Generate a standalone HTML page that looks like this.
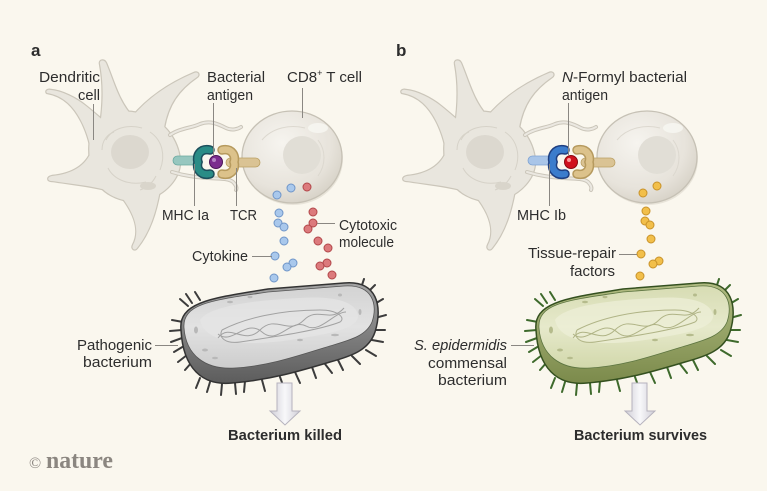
<!DOCTYPE html>
<html><head><meta charset="utf-8"><style>
html,body{margin:0;padding:0;background:#faf7ee;}
svg{display:block;}
text{font-family:"Liberation Sans",sans-serif;fill:#2d2d2d;}
text.logo{font-family:"Liberation Serif",serif;fill:#8b8680;}
</style></head><body>
<svg width="767" height="491" viewBox="0 0 767 491" xmlns="http://www.w3.org/2000/svg">
<defs>
<radialGradient id="tg" cx="0.4" cy="0.35" r="0.7">
<stop offset="0" stop-color="#f6f4ef"/><stop offset="0.7" stop-color="#e7e3db"/><stop offset="1" stop-color="#d6d1c6"/>
</radialGradient>
<linearGradient id="aside" x1="0" y1="0" x2="0" y2="1"><stop offset="0" stop-color="#a4a4a4"/><stop offset="1" stop-color="#5c5c5c"/></linearGradient>
<linearGradient id="atop" x1="0" y1="0" x2="0" y2="1"><stop offset="0" stop-color="#d3d3d3"/><stop offset="0.5" stop-color="#e2e2e2"/><stop offset="1" stop-color="#cdcdcd"/></linearGradient>
<linearGradient id="bside" x1="0" y1="0" x2="0" y2="1"><stop offset="0" stop-color="#b1bc82"/><stop offset="1" stop-color="#7b8a4b"/></linearGradient>
<linearGradient id="btop" x1="0" y1="0" x2="0" y2="1"><stop offset="0" stop-color="#d7dcb3"/><stop offset="0.5" stop-color="#e6e9cb"/><stop offset="1" stop-color="#d2d8ab"/></linearGradient>
<linearGradient id="arr" x1="0" y1="0" x2="1" y2="0"><stop offset="0" stop-color="#cfcdd6"/><stop offset="0.5" stop-color="#f8f8fa"/><stop offset="1" stop-color="#cfcdd6"/></linearGradient>

<g id="dcshapes">
<path d="M95,125 C105,112 125,108 145,115 C165,122 178,140 180,160 C181,178 165,195 145,200 C120,205 98,192 92,172 C88,155 88,135 95,125 Z"/>
<path d="M100,126 C104,100 103,80 100,64 C99,60 104,59 106,63 C114,82 118,100 132,116 Z"/>
<path d="M132,117 C148,98 168,84 194,73 C198,71 200,75 197,77 C178,90 168,105 164,128 Z"/>
<path d="M90,145 C86,128 78,112 68,103 C60,96 53,94 47,93 C45,91 48,89 51,90 C62,91 76,98 86,106 C96,114 102,120 108,124 Z"/>
<path d="M92,150 C86,166 72,174 52,176 C47,177 47,181 52,181 C72,184 92,186 106,190 Z"/>
<path d="M120,195 C136,215 140,232 133,245 C131,249 135,251 137,248 C150,232 156,212 160,190 Z"/>
</g>

<g id="dc">
<use href="#dcshapes" fill="#cbc6ba" stroke="#cbc6ba" stroke-width="2.4"/>
<use href="#dcshapes" fill="#e9e6de"/>
<path d="M170,135 C180,128 192,128 200,124 C210,120 218,124 226,128 C232,131 238,129 241,127" fill="none" stroke="#cbc6ba" stroke-width="4" stroke-linecap="round"/>
<path d="M170,135 C180,128 192,128 200,124 C210,120 218,124 226,128 C232,131 238,129 241,127" fill="none" stroke="#ebe8e1" stroke-width="2" stroke-linecap="round"/>
<path d="M172,172 C185,176 195,177 208,178 C220,179 228,178 233,182 C236,185 237,188 236,190" fill="none" stroke="#cbc6ba" stroke-width="4" stroke-linecap="round"/>
<path d="M172,172 C185,176 195,177 208,178 C220,179 228,178 233,182 C236,185 237,188 236,190" fill="none" stroke="#ebe8e1" stroke-width="2" stroke-linecap="round"/>
<ellipse cx="130" cy="152" rx="19" ry="17" fill="#dcd8cf"/>
<g fill="none" stroke="#d6d2c8" stroke-width="1">
<path d="M106,140 C112,128 128,124 142,128"/>
<path d="M150,132 C162,140 166,155 160,170"/>
<path d="M108,168 C114,180 130,186 146,182"/>
<path d="M102,150 C102,140 108,134 114,132"/>
<path d="M156,176 C152,184 146,188 140,190"/>
</g>
<ellipse cx="148" cy="186" rx="8" ry="4" fill="#d9d5cb"/>
</g>

<g id="tcell">
<ellipse cx="293" cy="159" rx="50" ry="46" fill="#dcd7cc" opacity="0.6"/>
<ellipse cx="292" cy="157" rx="50" ry="46" fill="url(#tg)" stroke="#c6c1b5" stroke-width="1.3"/>
<circle cx="302" cy="155" r="19" fill="#e1ded6"/>
<path d="M262,140 C272,128 290,124 305,128" fill="none" stroke="#dcd8cf" stroke-width="1"/>
<path d="M318,140 C326,150 326,165 318,176" fill="none" stroke="#dcd8cf" stroke-width="1"/>
<ellipse cx="318" cy="128" rx="10" ry="5" fill="#f8f7f3" opacity="0.8"/>
</g>
</defs>

<!-- Panel labels -->
<text x="31" y="56" font-size="17" font-weight="bold">a</text>
<text x="396" y="56" font-size="17" font-weight="bold">b</text>

<!-- Panel A cells -->
<use href="#dc"/>
<use href="#tcell"/>
<rect x="173" y="156" width="29" height="9" rx="4.5" fill="#97c7bf" stroke="#6aa9a0" stroke-width="0.8"/>
<path d="M210,150 C200,148 196,156 198,162 C196,168 200,176 210,174" fill="none" stroke="#1d4f5c" stroke-width="9.5" stroke-linecap="round"/>
<path d="M210,150 C200,148 196,156 198,162 C196,168 200,176 210,174" fill="none" stroke="#2a8c86" stroke-width="6.5" stroke-linecap="round"/>
<rect x="226" y="158" width="34" height="9" rx="4.5" fill="#dac394" stroke="#bba064" stroke-width="0.8"/>
<path d="M222,150 C232,148 236,156 234,162 C236,168 232,176 222,174" fill="none" stroke="#b69a5e" stroke-width="9.5" stroke-linecap="round"/>
<path d="M222,150 C232,148 236,156 234,162 C236,168 232,176 222,174" fill="none" stroke="#dcc28b" stroke-width="6.5" stroke-linecap="round"/>
<circle cx="216" cy="162" r="6.5" fill="#7b2d8e" stroke="#4b1658" stroke-width="1"/>
<circle cx="214" cy="160" r="2" fill="#b584c4"/>

<!-- Panel B cells -->
<g transform="translate(355,0)">
<use href="#dc"/>
<use href="#tcell"/>
<rect x="173" y="156" width="29" height="9" rx="4.5" fill="#a9c5e8" stroke="#7fa3d2" stroke-width="0.8"/>
<path d="M210,150 C200,148 196,156 198,162 C196,168 200,176 210,174" fill="none" stroke="#1f3f80" stroke-width="9.5" stroke-linecap="round"/>
<path d="M210,150 C200,148 196,156 198,162 C196,168 200,176 210,174" fill="none" stroke="#3b7ccc" stroke-width="6.5" stroke-linecap="round"/>
<rect x="226" y="158" width="34" height="9" rx="4.5" fill="#dac394" stroke="#bba064" stroke-width="0.8"/>
<path d="M222,150 C232,148 236,156 234,162 C236,168 232,176 222,174" fill="none" stroke="#b69a5e" stroke-width="9.5" stroke-linecap="round"/>
<path d="M222,150 C232,148 236,156 234,162 C236,168 232,176 222,174" fill="none" stroke="#dcc28b" stroke-width="6.5" stroke-linecap="round"/>
<circle cx="216" cy="162" r="6.5" fill="#d0111e" stroke="#8a0a12" stroke-width="1"/>
<circle cx="214" cy="160" r="2" fill="#ff9a9a"/>
</g>

<!-- Molecules -->
<g stroke-width="1">
<g fill="#a9c8ec" stroke="#6f95c8">
<circle cx="277" cy="195" r="4"/><circle cx="291" cy="188" r="4"/><circle cx="279" cy="213" r="4"/>
<circle cx="278" cy="223" r="4"/><circle cx="284" cy="227" r="4"/><circle cx="284" cy="241" r="4"/>
<circle cx="275" cy="256" r="4"/><circle cx="293" cy="263" r="4"/><circle cx="287" cy="267" r="4"/><circle cx="274" cy="278" r="4"/>
</g>
<g fill="#dc7a7c" stroke="#b2474a">
<circle cx="307" cy="187" r="4"/><circle cx="313" cy="212" r="4"/><circle cx="313" cy="223" r="4"/>
<circle cx="308" cy="229" r="4"/><circle cx="318" cy="241" r="4"/><circle cx="328" cy="248" r="4"/>
<circle cx="327" cy="263" r="4"/><circle cx="320" cy="266" r="4"/><circle cx="332" cy="275" r="4"/>
</g>
<g fill="#f2bf4a" stroke="#c8922a">
<circle cx="657" cy="186" r="4"/><circle cx="643" cy="193" r="4"/><circle cx="646" cy="211" r="4"/>
<circle cx="645" cy="221" r="4"/><circle cx="650" cy="225" r="4"/><circle cx="651" cy="239" r="4"/>
<circle cx="641" cy="254" r="4"/><circle cx="659" cy="261" r="4"/><circle cx="653" cy="264" r="4"/><circle cx="640" cy="276" r="4"/>
</g>
</g>

<!-- Bacterium A -->
<g>
<g stroke="#3c3c3c" stroke-width="2" stroke-linecap="round" fill="none">
<path d="M188,306 L180,299 M192,303 L186,294 M183,322 L172,320 M182,330 L170,331 M182,338 L171,342 M184,346 L174,352 M187,355 L178,362 M192,362 L185,370 M200,378 L196,388 M210,382 L207,392 M222,384 L221,395 M235,383 L236,394 M245,381 L244,392 M262,380 L265,391 M280,377 L284,388 M295,372 L300,383 M312,367 L316,378 M325,364 L332,373 M338,360 L343,370 M352,356 L360,364 M366,350 L376,356 M372,340 L383,342 M374,330 L385,330 M375,318 L386,315 M373,305 L383,299 M367,293 L375,285 M361,288 L364,279 M200,300 L195,292"/>
</g>
<path d="M181,330 C178,302 212,298 268,289 L344,283 C377,280 383,306 375,332 C369,350 352,356 330,362 C300,371 270,380 232,383 C202,386 183,368 181,330 Z" fill="url(#aside)" stroke="#333" stroke-width="1.5"/>
<path d="M184,328 C182,303 214,300 268,292 L344,286 C373,284 378,305 372,322 C366,336 350,340 330,346 C300,355 270,366 235,368 C205,370 186,355 184,328 Z" fill="url(#atop)" stroke="#555" stroke-width="0.8"/>
<path d="M200,320 C210,305 260,300 300,298 C330,296 355,300 358,315 C360,330 320,335 290,340 C250,346 205,345 200,320 Z" fill="#e6e6e6" opacity="0.7"/>
<g fill="none" stroke="#a2a2a2" stroke-width="1">
<path d="M218,338 C230,322 244,346 260,330 C276,314 288,336 304,320 C318,306 330,324 344,308"/>
<path d="M218,334 C232,346 246,318 262,332 C278,346 290,318 306,326 C320,334 334,312 346,312"/>
<path d="M222,330 C245,318 280,310 320,310 C338,310 346,318 340,322 C320,330 280,336 240,342 C226,344 218,338 222,330"/>
</g>
<g fill="#b8b8b8">
<ellipse cx="196" cy="330" rx="2" ry="3.5"/><ellipse cx="205" cy="350" rx="3" ry="1.5"/><ellipse cx="230" cy="302" rx="3" ry="1.3"/>
<ellipse cx="250" cy="297" rx="2.5" ry="1.2"/><ellipse cx="340" cy="295" rx="2" ry="1.5"/><ellipse cx="360" cy="312" rx="1.5" ry="3"/>
<ellipse cx="335" cy="335" rx="4" ry="1.3"/><ellipse cx="215" cy="358" rx="3" ry="1.3"/><ellipse cx="300" cy="340" rx="3" ry="1.2"/>
</g>
</g>

<!-- Bacterium B -->
<g transform="translate(355,0)">
<g stroke="#3e6a2c" stroke-width="2" stroke-linecap="round" fill="none">
<path d="M188,306 L180,299 M192,303 L186,294 M183,322 L172,320 M182,330 L170,331 M182,338 L171,342 M184,346 L174,352 M187,355 L178,362 M192,362 L185,370 M200,378 L196,388 M210,382 L207,392 M222,384 L221,395 M235,383 L236,394 M245,381 L244,392 M262,380 L265,391 M280,377 L284,388 M295,372 L300,383 M312,367 L316,378 M325,364 L332,373 M338,360 L343,370 M352,356 L360,364 M366,350 L376,356 M372,340 L383,342 M374,330 L385,330 M375,318 L386,315 M373,305 L383,299 M367,293 L375,285 M361,288 L364,279 M200,300 L195,292"/>
</g>
<path d="M181,330 C178,302 212,298 268,289 L344,283 C377,280 383,306 375,332 C369,350 352,356 330,362 C300,371 270,380 232,383 C202,386 183,368 181,330 Z" fill="url(#bside)" stroke="#34501f" stroke-width="1.5"/>
<path d="M184,328 C182,303 214,300 268,292 L344,286 C373,284 378,305 372,322 C366,336 350,340 330,346 C300,355 270,366 235,368 C205,370 186,355 184,328 Z" fill="url(#btop)" stroke="#5c7440" stroke-width="0.8"/>
<path d="M200,320 C210,305 260,300 300,298 C330,296 355,300 358,315 C360,330 320,335 290,340 C250,346 205,345 200,320 Z" fill="#eef0d8" opacity="0.7"/>
<g fill="none" stroke="#b0b486" stroke-width="1">
<path d="M218,338 C230,322 244,346 260,330 C276,314 288,336 304,320 C318,306 330,324 344,308"/>
<path d="M218,334 C232,346 246,318 262,332 C278,346 290,318 306,326 C320,334 334,312 346,312"/>
<path d="M222,330 C245,318 280,310 320,310 C338,310 346,318 340,322 C320,330 280,336 240,342 C226,344 218,338 222,330"/>
</g>
<g fill="#b5bb8c">
<ellipse cx="196" cy="330" rx="2" ry="3.5"/><ellipse cx="205" cy="350" rx="3" ry="1.5"/><ellipse cx="230" cy="302" rx="3" ry="1.3"/>
<ellipse cx="250" cy="297" rx="2.5" ry="1.2"/><ellipse cx="340" cy="295" rx="2" ry="1.5"/><ellipse cx="360" cy="312" rx="1.5" ry="3"/>
<ellipse cx="335" cy="335" rx="4" ry="1.3"/><ellipse cx="215" cy="358" rx="3" ry="1.3"/><ellipse cx="300" cy="340" rx="3" ry="1.2"/>
</g>
</g>

<!-- Arrows -->
<path d="M277,383 L292,383 L292,411 L300,411 L285,425 L270,411 L277,411 Z" fill="url(#arr)" stroke="#b5b2bd" stroke-width="1"/>
<path d="M632,383 L647,383 L647,411 L655,411 L640,425 L625,411 L632,411 Z" fill="url(#arr)" stroke="#b5b2bd" stroke-width="1"/>

<!-- Leader lines -->
<g stroke="#8a8782" stroke-width="1" fill="none">
<path d="M93.5,104 L93.5,140"/>
<path d="M213.5,103 L213.5,155"/>
<path d="M302.5,88 L302.5,118"/>
<path d="M194.5,164 L194.5,206"/>
<path d="M236.5,168 L236.5,206"/>
<path d="M317,223.5 L335,223.5"/>
<path d="M252,256.5 L272,256.5"/>
<path d="M155,345.5 L178,345.5"/>
<path d="M568.5,103 L568.5,155"/>
<path d="M549.5,164 L549.5,206"/>
<path d="M619,254.5 L637,254.5"/>
<path d="M511,345.5 L534,345.5"/>
</g>

<!-- Labels -->
<g font-size="15">
<text x="39" y="82" textLength="61" lengthAdjust="spacingAndGlyphs">Dendritic</text>
<text x="78" y="100" textLength="22" lengthAdjust="spacingAndGlyphs">cell</text>
<text x="207" y="82" textLength="58" lengthAdjust="spacingAndGlyphs">Bacterial</text>
<text x="207" y="100" textLength="46" lengthAdjust="spacingAndGlyphs">antigen</text>
<text x="287" y="82" textLength="75" lengthAdjust="spacingAndGlyphs">CD8<tspan font-size="9" dy="-6">+</tspan><tspan dy="6"> T cell</tspan></text>
<text x="162" y="220" textLength="47" lengthAdjust="spacingAndGlyphs">MHC Ia</text>
<text x="230" y="220" textLength="27" lengthAdjust="spacingAndGlyphs">TCR</text>
<text x="339" y="230" textLength="58" lengthAdjust="spacingAndGlyphs">Cytotoxic</text>
<text x="339" y="247" textLength="55" lengthAdjust="spacingAndGlyphs">molecule</text>
<text x="192" y="261" textLength="56" lengthAdjust="spacingAndGlyphs">Cytokine</text>
<text x="77" y="350" textLength="75" lengthAdjust="spacingAndGlyphs">Pathogenic</text>
<text x="83" y="367" textLength="69" lengthAdjust="spacingAndGlyphs">bacterium</text>
<text x="228" y="440" font-weight="bold" textLength="114" lengthAdjust="spacingAndGlyphs">Bacterium killed</text>

<text x="562" y="82" textLength="125" lengthAdjust="spacingAndGlyphs"><tspan font-style="italic">N</tspan>-Formyl bacterial</text>
<text x="562" y="100" textLength="46" lengthAdjust="spacingAndGlyphs">antigen</text>
<text x="517" y="220" textLength="49" lengthAdjust="spacingAndGlyphs">MHC Ib</text>
<text x="528" y="258" textLength="88" lengthAdjust="spacingAndGlyphs">Tissue-repair</text>
<text x="570" y="276" textLength="45" lengthAdjust="spacingAndGlyphs">factors</text>
<text x="414" y="350" font-style="italic" textLength="93" lengthAdjust="spacingAndGlyphs">S. epidermidis</text>
<text x="428" y="368" textLength="79" lengthAdjust="spacingAndGlyphs">commensal</text>
<text x="438" y="385" textLength="69" lengthAdjust="spacingAndGlyphs">bacterium</text>
<text x="574" y="440" font-weight="bold" textLength="133" lengthAdjust="spacingAndGlyphs">Bacterium survives</text>
</g>

<!-- nature logo -->
<text class="logo" x="29" y="468" font-size="16">©</text>
<text class="logo" x="46" y="468" font-size="24" font-weight="bold" textLength="67" lengthAdjust="spacingAndGlyphs">nature</text>
</svg>
</body></html>
